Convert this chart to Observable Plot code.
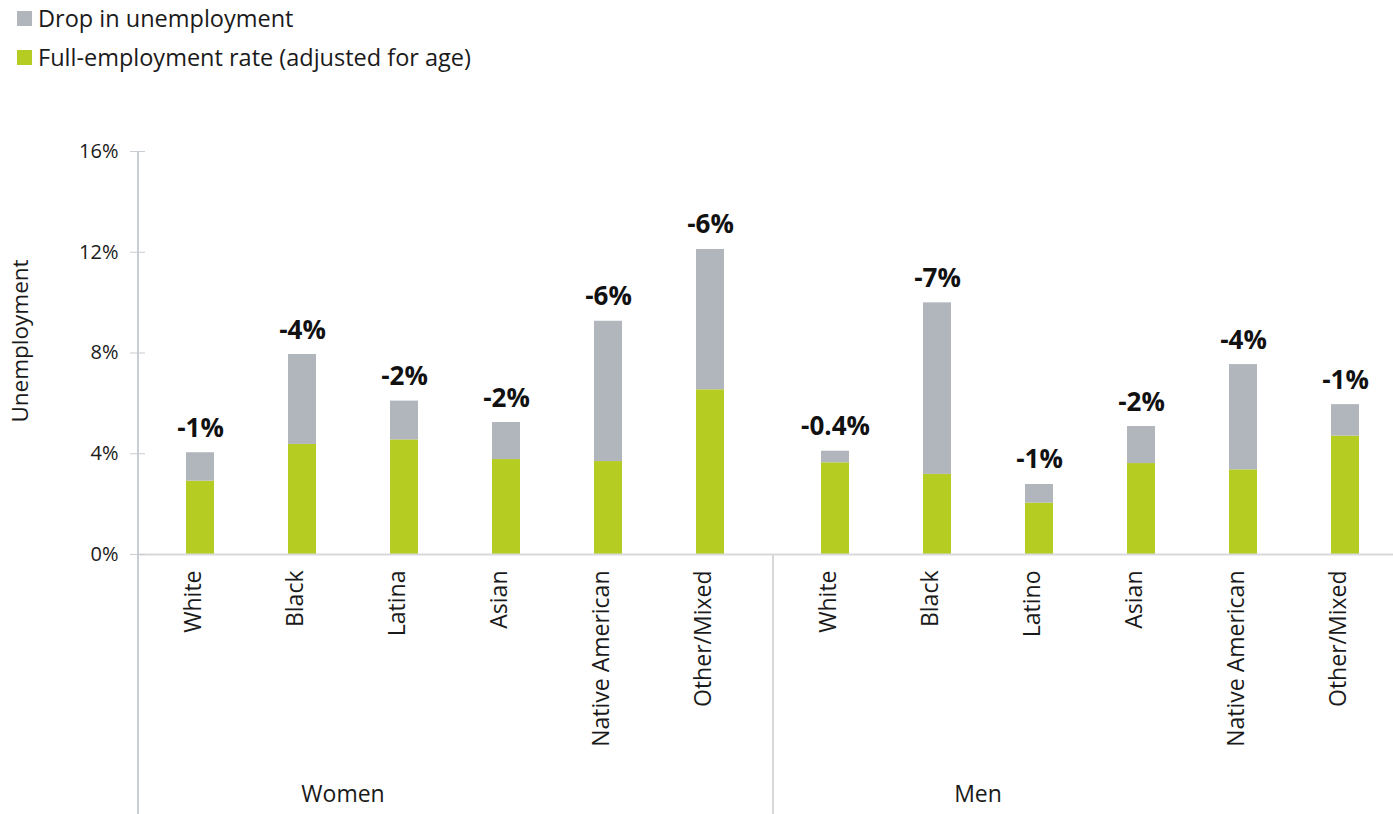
<!DOCTYPE html>
<html><head><meta charset="utf-8">
<script src="https://cdn.jsdelivr.net/npm/d3@7"></script>
<script src="https://cdn.jsdelivr.net/npm/@observablehq/plot@0.6"></script>
<style>
html,body{margin:0;padding:0;background:#fff;overflow:hidden;}
body{font-family:"Open Sans",sans-serif;color:#1a1a1a;width:1393px;height:814px;}
#legend{position:relative;height:80px;}
.item{position:absolute;left:17px;height:30px;line-height:30px;font-size:23.5px;display:flex;align-items:center;white-space:nowrap;}
.sw{width:15px;height:15px;margin-right:6px;display:inline-block;}
#chart svg{max-width:none;display:block;}
</style></head><body>
<div id="legend"></div>
<div id="chart"></div>
<script>
const groups = ["Women", "Men"];
const groupOf = ["Women","Women","Women","Women","Women","Women","Men","Men","Men","Men","Men","Men"];
const races = ["White","Black","Latina","Asian","Native American","Other/Mixed","White","Black","Latino","Asian","Native American","Other/Mixed"];
const fullRate = [2.91, 4.37, 4.55, 3.77, 3.69, 6.54, 3.64, 3.18, 2.04, 3.61, 3.36, 4.70];
const dropRate = [1.13, 3.57, 1.54, 1.47, 5.57, 5.57, 0.46, 6.81, 0.74, 1.47, 4.18, 1.25];
const dropLabels = ["-1%","-4%","-2%","-2%","-6%","-6%","-0.4%","-7%","-1%","-2%","-4%","-1%"];
const yTicks = [0, 4, 8, 12, 16];
const yTitle = "Unemployment";
const seriesNames = ["Full-employment rate (adjusted for age)", "Drop in unemployment"];
const seriesColors = ["#b5cc23", "#b1b5bc"];

// legend
const legend = document.getElementById("legend");
[["Drop in unemployment", seriesColors[1], 3], ["Full-employment rate (adjusted for age)", seriesColors[0], 42]].forEach(([t, c, top]) => {
  const d = document.createElement("div");
  d.className = "item"; d.style.top = top + "px";
  d.innerHTML = `<span class="sw" style="background:${c}"></span>${t}`;
  legend.appendChild(d);
});

const rows = races.map((r, i) => ({
  group: groupOf[i], idx: i % 6, race: r,
  full: fullRate[i], drop: dropRate[i], total: fullRate[i] + dropRate[i], label: dropLabels[i]
}));
const long = rows.flatMap(d => [
  {group: d.group, idx: d.idx, series: seriesNames[0], value: d.full},
  {group: d.group, idx: d.idx, series: seriesNames[1], value: d.drop}
]);

const font = "Open Sans, sans-serif";
const chart = Plot.plot({
  width: 1408, height: 734,
  marginLeft: 138, marginRight: 0, marginTop: 71, marginBottom: 260,
  style: {fontFamily: font, fontSize: "20px", color: "#1a1a1a", background: "white", overflow: "visible"},
  fx: {domain: groups, padding: 0, axis: null},
  x: {domain: [0,1,2,3,4,5], paddingInner: 0.722, paddingOuter: 0.4585, axis: null},
  y: {domain: [0, 16], axis: null},
  color: {domain: seriesNames, range: seriesColors},
  marks: [
    Plot.barY(long, Plot.stackY({fx: "group", x: "idx", y: "value", fill: "series", order: null})),
    Plot.ruleY([0], {stroke: "#d9d9d9", strokeWidth: 2}),
    Plot.axisY({ticks: yTicks, tickFormat: d => d + "%", tickSize: 15, dx: 7, tickPadding: 12,
      stroke: "#c8ced3", fontSize: 20, label: null}),
    Plot.text([yTitle], {fx: () => "Women", text: d => d, frameAnchor: "left", textAnchor: "middle", rotate: -90,
      dx: -118, dy: -12, fontSize: 22.5, fill: "#1a1a1a"}),
    Plot.text(rows, {fx: "group", x: "idx", y: "total", text: "label", lineAnchor: "bottom", dy: -16,
      fontWeight: "bold", fontSize: 26, fill: "#111"}),
    Plot.text(rows, {fx: "group", x: "idx", text: "race", frameAnchor: "bottom", rotate: -90,
      textAnchor: "end", dy: 16, fontSize: 23, fill: "#1a1a1a"}),
    Plot.text(groups, {fx: d => d, text: d => d, frameAnchor: "bottom", dy: 247, dx: -113, fontSize: 23, fill: "#1a1a1a"})
  ]
});
document.getElementById("chart").appendChild(chart);

// category-axis lines (facet boundaries and end), positioned from Plot's scales
const fx = chart.scale("fx"), x = chart.scale("x"), y = chart.scale("y");
const svg = d3.select(chart);
const H = 734;
const vline = (px, y1, color) => svg.append("line").attr("x1", px).attr("x2", px)
  .attr("y1", y1).attr("y2", H).attr("stroke", color).attr("stroke-width", 2);
vline(fx.apply("Women"), y.apply(16), "#c8ced3");
vline(fx.apply("Men"), y.apply(0), "#d9d9d9");
const endX = fx.apply("Men") + x.apply(5) + x.bandwidth / 2 + x.step * 0.4;
vline(endX, y.apply(0), "#d9d9d9");
</script>
</body></html>
